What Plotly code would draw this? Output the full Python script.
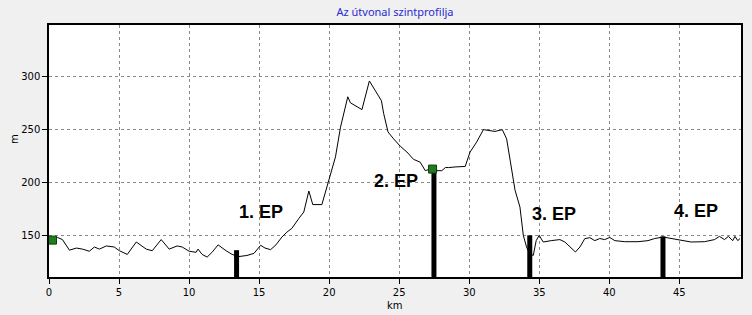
import plotly.graph_objects as go

# Elevation profile (km, m)
dist_km = [0.00, 0.25, 0.61, 0.96, 1.46, 1.96, 2.39, 2.88, 3.24, 3.60, 4.09, 4.66, 5.02, 5.59,
           6.23, 6.94, 7.37, 8.01, 8.58, 9.15, 9.51, 10.00, 10.50, 10.64, 10.93, 11.29, 11.64,
           12.07, 12.64, 13.07, 13.56, 14.13, 14.63, 15.11, 15.42, 15.82, 16.20, 16.63, 16.98,
           17.34, 17.84, 18.19, 18.55, 18.83, 19.48, 19.76, 19.98, 20.45, 20.81, 21.33, 21.52,
           21.99, 22.34, 22.87, 23.25, 23.73, 23.89, 24.20, 24.60, 25.08, 25.55, 26.02, 26.50,
           26.86, 27.09, 27.38, 27.66, 28.04, 28.30, 28.52, 28.99, 29.71, 30.06, 30.53, 31.01,
           31.37, 31.84, 32.36, 32.67, 32.93, 33.27, 33.62, 33.86, 34.09, 34.29, 34.57, 34.78,
           34.99, 35.28, 35.85, 36.47, 36.83, 37.18, 37.58, 37.90, 38.25, 38.61, 38.96, 39.32,
           39.67, 40.03, 40.39, 41.10, 42.05, 42.76, 43.24, 43.83, 44.42, 45.02, 45.84, 46.80,
           47.51, 47.86, 48.22, 48.50, 48.81, 48.97, 49.17, 49.33]
elev_m = [146, 146, 148, 146, 136, 138, 137, 135, 139, 137, 140, 139, 135.5, 132,
          143.7, 137, 135.5, 146, 137, 140, 139, 135, 134, 137, 132, 129.5, 134,
          141, 135.5, 132, 130, 131, 133, 140.6, 138, 136.5, 141, 148.4, 153,
          156.6, 166, 172, 191.8, 179, 179, 192.5, 202, 224, 252, 280.7, 275,
          271, 268.6, 295.6, 287, 277, 265, 247.5, 241, 234, 228.6, 221.7, 219,
          211, 212, 212, 211, 211, 214, 213.9, 214.5, 215, 228.6, 238, 249.7,
          249, 248, 249.7, 241, 220, 192.5, 176.7, 150, 139, 133, 131, 145,
          150, 143.7, 145, 146, 143.7, 139.6, 134.3, 139, 146.9, 147.8, 145, 147,
          146, 148, 145, 144, 144, 145, 147, 148.4, 147, 145, 143.7, 144,
          146, 149, 146, 149, 145, 149, 145, 147]

# Checkpoints (EP)
ep_labels = ["1. EP", "2. EP", "3. EP", "4. EP"]
ep_km = [13.39, 27.48, 34.32, 43.83]
ep_top_m = [136, 212, 150, 149]
ep_label_km = [13.42, 23.03, 34.36, 44.47]
ep_label_m = [172, 201.7, 170.6, 172.5]

# Green markers
mark_km = [0.25, 27.38]
mark_m = [145.5, 212.5]

x_ticks = [0, 5, 10, 15, 20, 25, 30, 35, 40, 45]
y_ticks = [150, 200, 250, 300]
x_range = [0, 49.4]
y_range = [110.7, 348.4]

fig = go.Figure()
fig.add_trace(go.Scatter(x=dist_km, y=elev_m, mode="lines",
                         line=dict(color="black", width=1), hoverinfo="skip",
                         showlegend=False))
for k, top in zip(ep_km, ep_top_m):
    fig.add_trace(go.Scatter(x=[k, k], y=[y_range[0] - 1, top], mode="lines",
                             line=dict(color="black", width=5), cliponaxis=False,
                             showlegend=False, hoverinfo="skip"))
fig.add_trace(go.Scatter(x=mark_km, y=mark_m, mode="markers",
                         marker=dict(symbol="square", size=8, color="#1f7d1f",
                                     line=dict(color="#0b3d0b", width=1)),
                         cliponaxis=False, showlegend=False, hoverinfo="skip"))

for t, lx, ly in zip(ep_labels, ep_label_km, ep_label_m):
    fig.add_annotation(x=lx, y=ly, text="<b>" + t + "</b>", showarrow=False,
                       xanchor="left", yanchor="middle",
                       font=dict(family="Liberation Sans, Arial", size=18, color="black"))

fig.add_annotation(xref="paper", yref="paper", x=0.5, y=0, yshift=-28,
                   text="km", showarrow=False, yanchor="middle",
                   font=dict(family="DejaVu Sans", size=10, color="black"))
fig.add_annotation(xref="paper", yref="paper", x=0, xshift=-34, y=0.548,
                   text="m", showarrow=False, textangle=-90, xanchor="center",
                   font=dict(family="DejaVu Sans", size=10, color="black"))

axis_common = dict(showline=True, linecolor="black", linewidth=1.5, mirror=True,
                   showgrid=True, gridcolor="#8a8a8a", gridwidth=1, griddash="3px,3px",
                   ticks="outside", ticklen=5, tickcolor="black", zeroline=False,
                   tickfont=dict(family="DejaVu Sans", size=10, color="black"))

fig.update_layout(
    width=752, height=315,
    margin=dict(l=49, r=9, t=25, b=38),
    paper_bgcolor="#f0f0f0", plot_bgcolor="white",
    title=dict(text="Az útvonal szintprofilja", x=0.5, xref="paper", xanchor="center",
               y=1 - 12 / 315, yanchor="middle",
               font=dict(family="Noto Sans", size=11, color="#2a2ad0")),
    xaxis=dict(range=x_range, tickvals=x_ticks, **axis_common),
    yaxis=dict(range=y_range, tickvals=y_ticks, **axis_common),
)

fig.write_html("out.html")
